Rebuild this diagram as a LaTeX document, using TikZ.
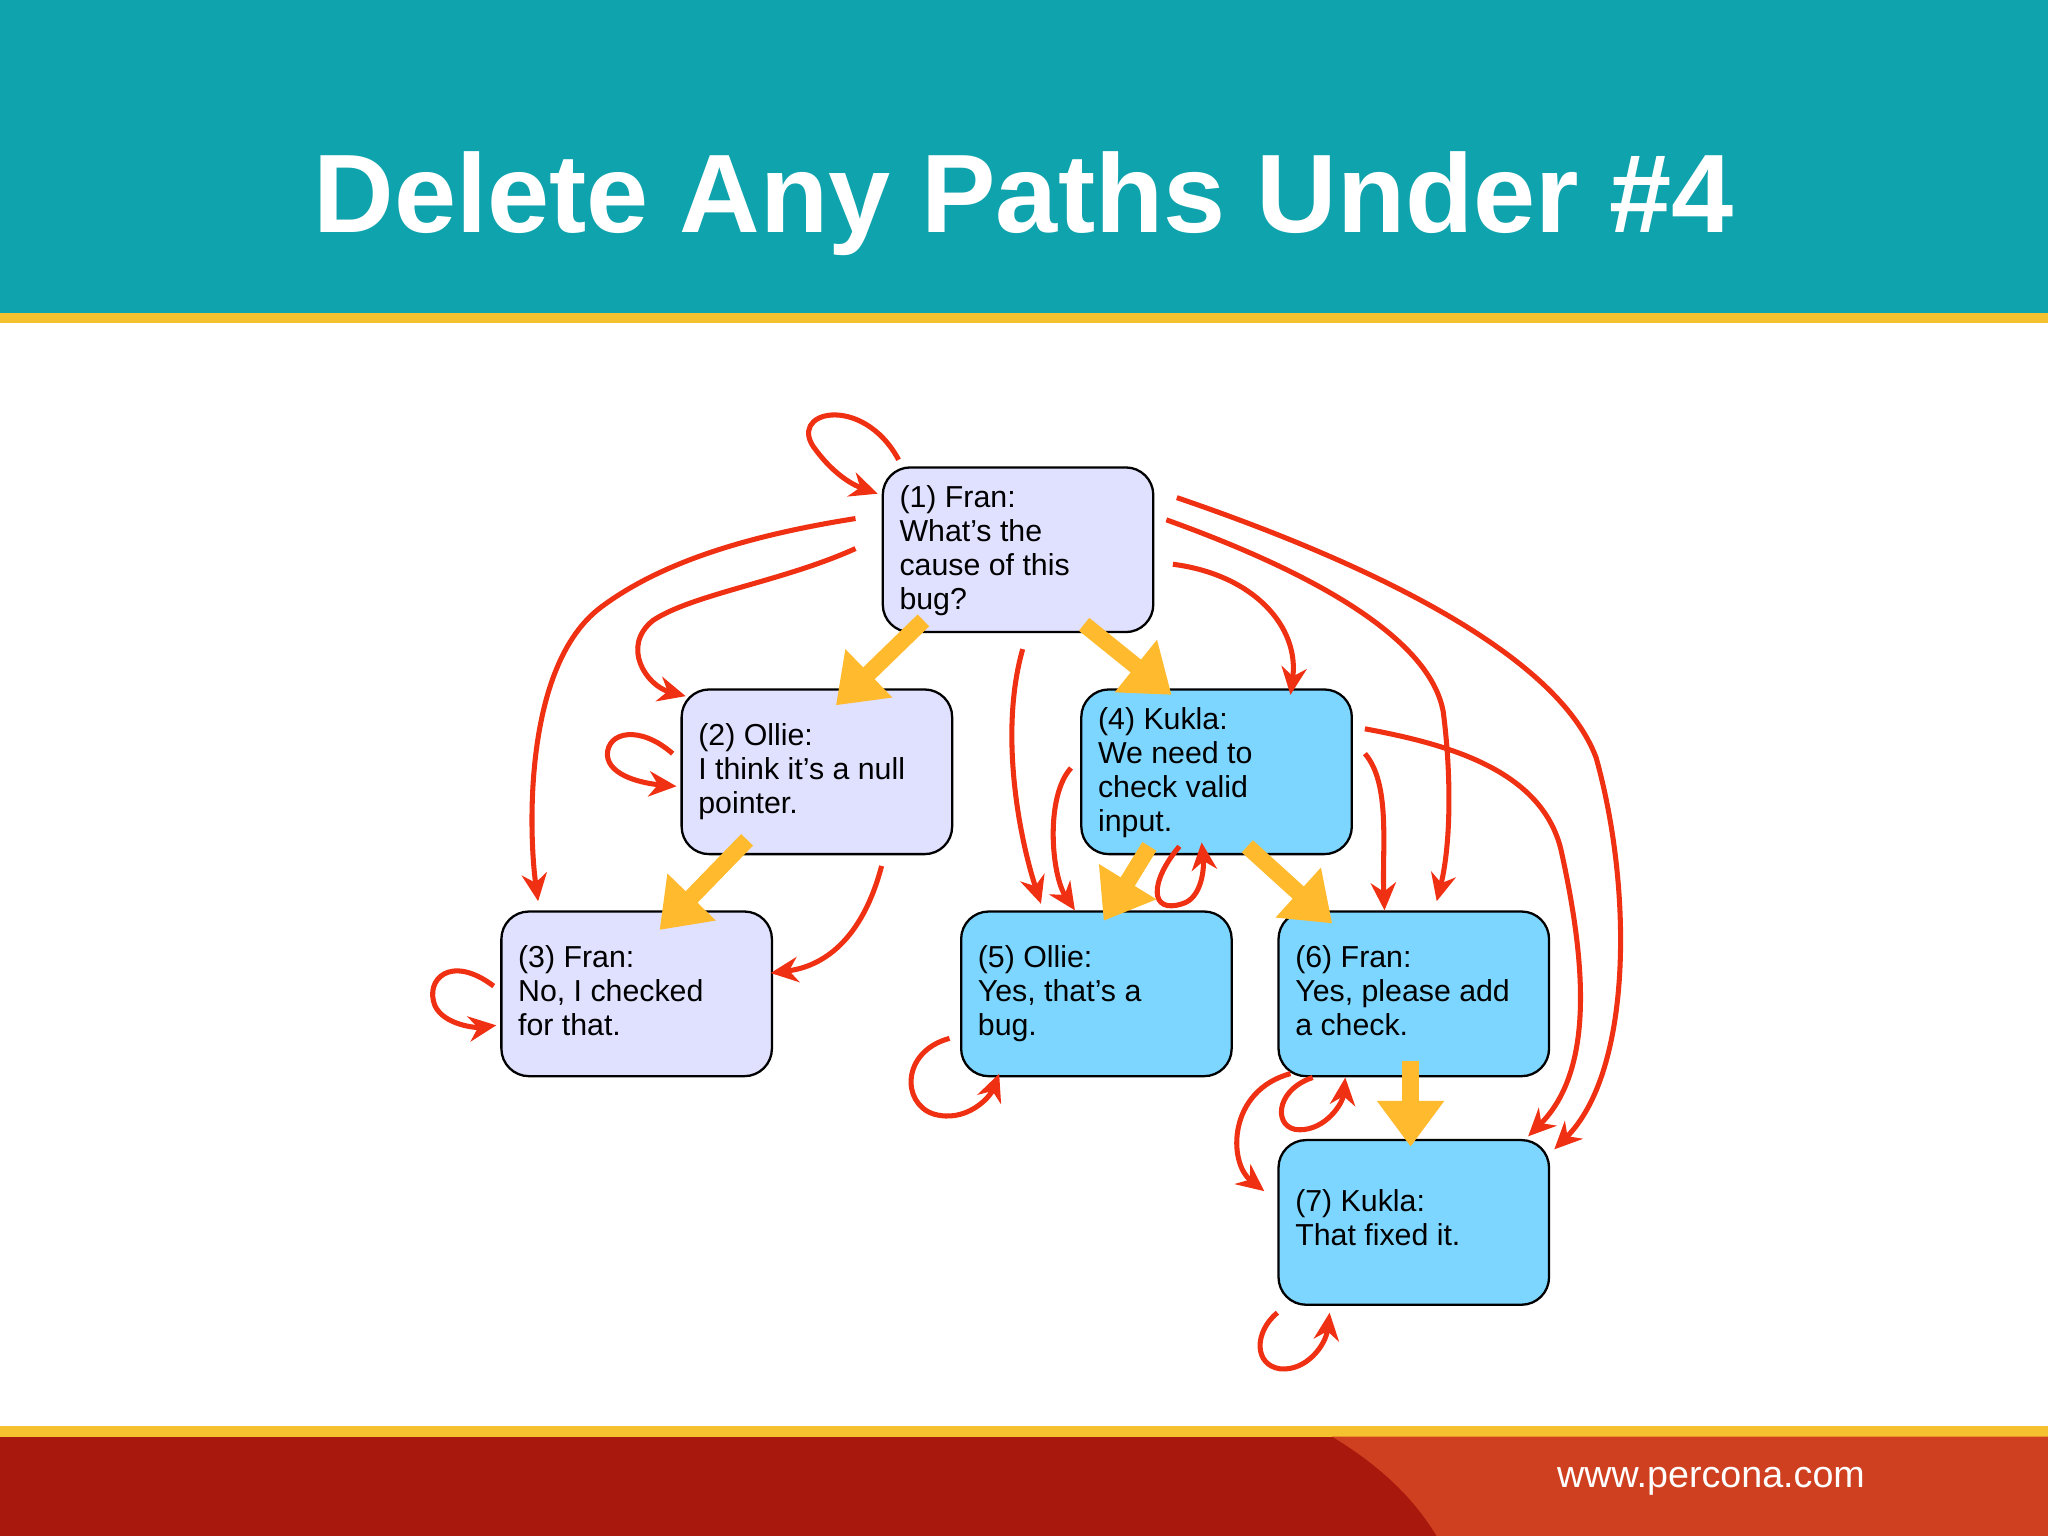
\documentclass[tikz,border=0pt]{standalone}
\usepackage{fontspec}
\setmainfont{Liberation Sans}
\usetikzlibrary{arrows.meta}
\definecolor{teal}{HTML}{0FA3AD}
\definecolor{gold}{HTML}{F5C12E}
\definecolor{lav}{HTML}{E0E0FF}
\definecolor{sky}{HTML}{7DD6FF}
\definecolor{yarr}{HTML}{FFBA2E}
\definecolor{rarr}{HTML}{F03012}
\definecolor{foot}{HTML}{A8180C}
\definecolor{foot2}{HTML}{CF4020}
\tikzset{
 box/.style={draw=black,line width=0.5pt,rounded corners=6pt,minimum width=2.07cm,minimum height=1.26cm,anchor=north west},
 txt/.style={anchor=north west,align=left,font=\fontsize{6.6}{7.4}\selectfont,inner sep=0pt},
 yel/.style={yarr,line width=3.6pt,-{Triangle[length=10pt,width=14pt]}},
 red/.style={rarr,line width=1.1pt,-{Stealth[length=6pt,width=5.5pt]}}
}
\begin{document}
\begin{tikzpicture}[x=0.01cm,y=-0.01cm]
\useasboundingbox (0,0) rectangle (1568,1176);
\fill[teal] (0,0) rectangle (1568,241);
\fill[gold] (0,240) rectangle (1568,247);
\fill[gold] (0,1092) rectangle (1568,1100);
\fill[foot] (0,1100) rectangle (1568,1176);
\fill[foot2] (1020,1100) .. controls (1070,1130) and (1090,1160) .. (1100,1176) -- (1568,1176) -- (1568,1100) -- cycle;
\node[white,font=\bfseries\fontsize{24.3}{28}\selectfont] (title) at (784,156) {Delete Any Paths Under \#4};
\node[white,font=\fontsize{8.2}{9}\selectfont] (url) at (1310,1134) {www.percona.com};

\node[box,fill=lav] (n1) at (675,357) {};
\node[box,fill=lav] (n2) at (521,527) {};
\node[box,fill=lav] (n3) at (383,697) {};
\node[box,fill=sky] (n4) at (827,527) {};
\node[box,fill=sky] (n5) at (735,697) {};
\node[box,fill=sky] (n6) at (978,697) {};
\node[box,fill=sky] (n7) at (978,872) {};
\node[txt] (t1) at (688,371) {(1) Fran:\\What’s the\\cause of this\\bug?};
\node[txt] (t2) at (534,553) {(2) Ollie:\\I think it’s a null\\pointer.};
\node[txt] (t3) at (396,723) {(3) Fran:\\No, I checked\\for that.};
\node[txt] (t4) at (840,541) {(4) Kukla:\\We need to\\check valid\\input.};
\node[txt] (t5) at (748,723) {(5) Ollie:\\Yes, that’s a\\bug.};
\node[txt] (t6) at (991,723) {(6) Fran:\\Yes, please add\\a check.};
\node[txt] (t7) at (991,910) {(7) Kukla:\\That fixed it.};

% red
\draw[red] (688,352) .. controls (660,300) and (600,315) .. (625,345) .. controls (640,365) and (655,372) .. (672,378);
\draw[red] (655,397) .. controls (560,412) and (500,435) .. (460,465) .. controls (400,510) and (405,640) .. (412,690);
\draw[red] (655,420) .. controls (600,445) and (530,455) .. (500,475) .. controls (475,495) and (495,525) .. (525,533);
\draw[red] (515,577) .. controls (490,555) and (465,560) .. (465,578) .. controls (466,595) and (495,600) .. (518,602);
\draw[red] (675,663) .. controls (660,720) and (630,740) .. (590,745);
\draw[red] (378,755) .. controls (345,730) and (325,750) .. (333,770) .. controls (340,785) and (365,787) .. (380,785);
\draw[red] (783,497) .. controls (765,560) and (780,640) .. (797,692);
\draw[red] (820,588) .. controls (800,610) and (805,670) .. (823,697);
\draw[red] (903,648) .. controls (880,675) and (880,700) .. (905,692) .. controls (920,688) and (922,665) .. (920,645);
\draw[red] (727,795) .. controls (690,805) and (690,845) .. (715,853) .. controls (740,860) and (758,840) .. (765,822);
\draw[red] (898,432) .. controls (960,440) and (995,480) .. (988,532);
\draw[red] (893,398) .. controls (1010,440) and (1095,490) .. (1105,545) .. controls (1112,600) and (1110,650) .. (1100,690);
\draw[red] (901,381) .. controls (1030,425) and (1190,495) .. (1222,580) .. controls (1250,680) and (1250,820) .. (1190,880);
\draw[red] (1045,558) .. controls (1110,570) and (1180,590) .. (1195,650) .. controls (1215,740) and (1220,820) .. (1170,870);
\draw[red] (1045,577) .. controls (1065,600) and (1058,650) .. (1060,697);
\draw[red] (988,822) .. controls (940,835) and (940,890) .. (968,912);
\draw[red] (1005,825) .. controls (975,835) and (975,865) .. (995,865) .. controls (1015,865) and (1028,845) .. (1030,825);
\draw[red] (978,1005) .. controls (960,1020) and (960,1045) .. (980,1048) .. controls (1000,1050) and (1015,1030) .. (1018,1005);

% yellow
\draw[yel] (707,475) -- (640,540);
\draw[yel] (830,478) -- (897,532);
\draw[yel] (572,643) -- (505,712);
\draw[yel] (880,648) -- (845,705);
\draw[yel] (955,648) -- (1020,707);
\draw[yel] (1080,812) -- (1080,878);
\end{tikzpicture}
\end{document}
